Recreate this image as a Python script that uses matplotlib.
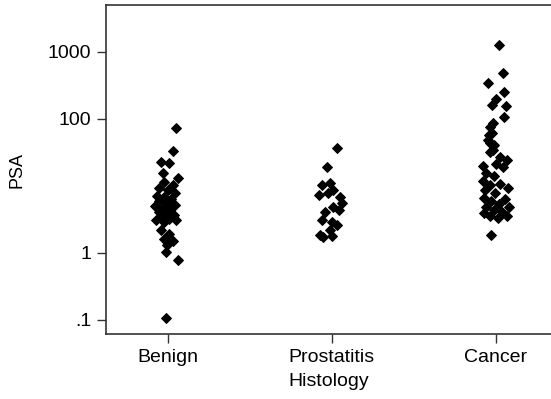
"""PSA by histology group: jittered dot plot on a log scale."""
import matplotlib
matplotlib.use("Agg")
import matplotlib.pyplot as plt

groups = ["Benign", "Prostatitis", "Cancer"]

benign_psa = [73.4, 33.3, 22.8, 22.0, 15.6, 13.2, 11.5, 10.4, 9.3, 8.7,
              7.9, 7.1, 6.9, 6.4, 6.0, 5.6, 5.2, 5.0, 4.7, 4.4,
              4.1, 3.8, 3.7, 3.4, 3.2, 3.1, 3.1, 2.9, 2.2, 1.9,
              1.6, 1.5, 1.3, 1.03, 0.79, 0.107]
benign_jitter = [0.05, 0.03, -0.04, 0.01, -0.03, 0.06, -0.02, 0.03, -0.05, 0.0,
                 0.045, -0.065, -0.02, 0.02, -0.05, -0.005, 0.045, -0.08, -0.03, 0.015,
                 -0.05, -0.01, 0.04, -0.04, 0.01, -0.07, 0.05, -0.02, -0.04, 0.01,
                 -0.02, 0.03, -0.005, -0.01, 0.06, -0.01]

prost_psa = [36.9, 19.2, 10.4, 11.1, 7.3, 7.9, 8.7, 6.9, 5.6, 4.9,
             4.4, 4.1, 3.1, 2.9, 2.6, 2.2, 1.86, 1.8, 1.7]
prost_jitter = [0.03, -0.03, -0.06, -0.01, -0.08, -0.025, 0.01, 0.05, 0.065, 0.01,
                0.045, -0.04, -0.057, 0.004, 0.035, -0.01, -0.07, 0.004, -0.05]

cancer_psa = [1271, 486, 345, 253, 199, 162, 156, 107, 87, 58,
              44, 34, 76, 62, 49, 40, 32, 27, 24, 20,
              21, 19, 15.6, 14.1, 11.9, 10.4, 10.7, 9.3, 8.7, 7.9,
              6.6, 6.4, 6.0, 5.4, 4.9, 4.9, 4.4, 4.0, 4.1, 3.6,
              3.3, 3.6, 1.86]
cancer_jitter = [0.02, 0.045, -0.045, 0.05, 0.0, -0.02, 0.06, 0.05, -0.015, -0.04,
                 -0.035, -0.015, -0.035, -0.02, -0.045, -0.01, -0.035, 0.025, 0.07, -0.08,
                 0.0, 0.045, -0.06, -0.01, -0.08, -0.035, 0.025, 0.075, -0.065, -0.005,
                 -0.07, 0.055, -0.03, 0.02, -0.06, 0.08, -0.01, -0.07, 0.04, -0.035,
                 0.015, 0.07, -0.03]

psa_ticks = [0.1, 1, 100, 1000]
psa_tick_labels = [".1", "1", "100", "1000"]

plt.rcParams["font.family"] = ["Liberation Sans", "DejaVu Sans"]

fig = plt.figure(figsize=(5.51, 3.99), dpi=100)
ax = fig.add_axes([106 / 551, 65 / 399, 445 / 551, 329 / 399])

for i, (vals, jit) in enumerate([(benign_psa, benign_jitter),
                                 (prost_psa, prost_jitter),
                                 (cancer_psa, cancer_jitter)]):
    xs = [i + j for j in jit]
    ax.plot(xs, vals, linestyle="none", marker="D", markersize=4.8,
            color="black", markeredgewidth=0.7)

ax.set_yscale("log")
ax.set_ylim(0.0618, 4966)
ax.set_xlim(-0.376, 2.337)
ax.set_yticks(psa_ticks)
ax.set_yticklabels(psa_tick_labels)
ax.minorticks_off()
ax.set_xticks(range(len(groups)))
ax.set_xticklabels(groups)

for side in ("left", "top", "bottom"):
    ax.spines[side].set_color("#333333")
    ax.spines[side].set_linewidth(1.2)
ax.spines["right"].set_visible(False)
ax.tick_params(axis="both", length=6.5, width=1, color="#333333",
               labelsize=14, pad=4)

ax.set_xlabel("Histology", fontsize=14, labelpad=5)
ax.set_ylabel("PSA", fontsize=13)
ax.yaxis.set_label_coords(-0.18, 0.5)

fig.savefig("out.png", dpi=100)
